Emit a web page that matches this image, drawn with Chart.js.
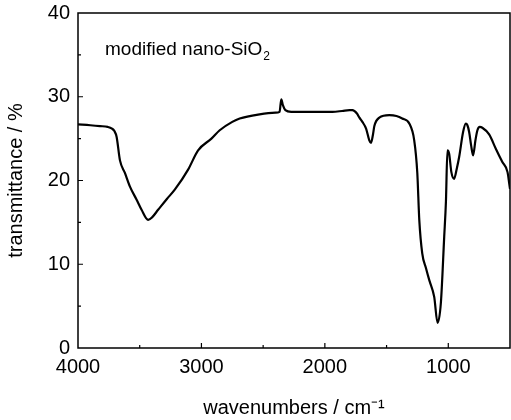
<!DOCTYPE html>
<html>
<head>
<meta charset="utf-8">
<script src="https://cdn.jsdelivr.net/npm/chart.js@4.4.1/dist/chart.umd.min.js"></script>
<style>
  html, body { margin: 0; padding: 0; background: #fff; }
  #wrap { width: 511px; height: 420px; position: relative; }
</style>
</head>
<body>
<div id="wrap"><canvas id="c" width="511" height="420"></canvas></div>
<script>
// Data
const wavenumbers = [4000, 3900, 3822, 3760, 3725, 3705, 3687, 3660, 3620, 3580, 3525, 3485, 3432, 3400, 3351, 3280, 3216, 3108, 3027, 2919, 2852, 2750, 2690, 2529, 2400, 2367, 2353, 2340, 2320, 2273, 2100, 1939, 1860, 1800, 1777, 1740, 1720, 1696, 1666, 1640, 1626, 1610, 1599, 1559, 1478, 1420, 1373, 1316, 1276, 1251, 1235, 1211, 1180, 1154, 1114, 1087, 1060, 1033, 1019, 1007, 993, 975, 953, 930, 912, 880, 858, 845, 831, 815, 799, 780, 764, 745, 724, 669, 615, 562, 520, 505, 500];
const transmittance = [26.7, 26.6, 26.5, 26.4, 26.2, 25.9, 25.2, 22.4, 20.9, 19.3, 17.7, 16.5, 15.3, 15.6, 16.5, 17.8, 18.9, 21.3, 23.6, 25.0, 26.0, 27.0, 27.4, 27.9, 28.1, 28.2, 29.7, 29.0, 28.4, 28.2, 28.2, 28.2, 28.3, 28.4, 28.4, 28.0, 27.5, 27.0, 26.2, 24.8, 24.5, 25.5, 26.5, 27.5, 27.8, 27.7, 27.4, 26.8, 24.8, 20.9, 15.3, 11.3, 9.5, 8.1, 6.1, 3.0, 5.4, 13.3, 17.5, 23.6, 23.2, 21.0, 20.2, 21.5, 22.8, 25.8, 26.8, 26.6, 25.8, 24.2, 23.0, 24.8, 26.0, 26.4, 26.3, 25.5, 23.8, 22.2, 21.0, 19.5, 19.0];
const xTicks = [4000, 3000, 2000, 1000];
const yTicks = [0, 10, 20, 30, 40];
const annotationText = 'modified nano-SiO';
const annotationSub = '2';

const FONT = '"Liberation Sans", Arial, Helvetica, sans-serif';

const points = wavenumbers.map((w, i) => ({ x: w, y: transmittance[i] }));

const frameAndTicks = {
  id: 'frameAndTicks',
  afterDraw(chart) {
    const { ctx, chartArea: a, scales: { x, y } } = chart;
    ctx.save();
    ctx.strokeStyle = '#000';
    ctx.lineWidth = 1.5;
    ctx.strokeRect(a.left, a.top, a.right - a.left, a.bottom - a.top);
    ctx.lineWidth = 1.2;
    ctx.beginPath();
    for (let v = 3500; v > 500; v -= 500) {
      const px = x.getPixelForValue(v);
      const len = v % 1000 === 0 ? 5 : 3;
      ctx.moveTo(px, a.bottom);
      ctx.lineTo(px, a.bottom - len);
    }
    for (let v = 5; v < 40; v += 5) {
      const py = y.getPixelForValue(v);
      const len = v % 10 === 0 ? 5 : 3;
      ctx.moveTo(a.left, py);
      ctx.lineTo(a.left + len, py);
    }
    ctx.stroke();
    // annotation label
    ctx.fillStyle = '#000';
    ctx.font = '19px ' + FONT;
    ctx.textBaseline = 'alphabetic';
    ctx.textAlign = 'left';
    const tx = 105, ty = 55;
    ctx.fillText(annotationText, tx, ty);
    const w = ctx.measureText(annotationText).width;
    ctx.font = '12px ' + FONT;
    ctx.fillText(annotationSub, tx + w + 1, ty + 5);
    ctx.restore();
  }
};

new Chart(document.getElementById('c'), {
  type: 'line',
  data: {
    datasets: [{
      data: points,
      borderColor: '#000',
      borderWidth: 2.2,
      pointRadius: 0,
      fill: false,
      cubicInterpolationMode: 'monotone'
    }]
  },
  options: {
    responsive: false,
    animation: false,
    layout: { padding: { top: 13, right: 1, left: 0, bottom: 0 } },
    plugins: { legend: { display: false }, tooltip: { enabled: false } },
    scales: {
      x: {
        type: 'linear',
        reverse: true,
        min: 500,
        max: 4000,
        afterFit(s) { s.height = 72; s.paddingLeft = 0; s.paddingRight = 0; },
        afterBuildTicks(s) { s.ticks = xTicks.map(v => ({ value: v })); },
        grid: { display: false, drawTicks: false },
        border: { display: false },
        ticks: { color: '#000', font: { family: FONT, size: 20 }, padding: 7, maxRotation: 0, autoSkip: false, callback: v => String(v) },
        title: { display: true, text: 'wavenumbers / cm⁻¹', color: '#000', font: { family: FONT, size: 20 }, padding: { top: 5, bottom: 0 } }
      },
      y: {
        min: 0,
        max: 40,
        afterFit(s) { s.width = 78; s.paddingTop = 0; s.paddingBottom = 0; },
        afterBuildTicks(s) { s.ticks = yTicks.map(v => ({ value: v })); },
        grid: { display: false, drawTicks: false },
        border: { display: false },
        ticks: { color: '#000', font: { family: FONT, size: 20 }, padding: 8, callback: v => String(v) },
        title: { display: true, text: 'transmittance / %', color: '#000', font: { family: FONT, size: 20 }, padding: { top: 4, bottom: 0 } }
      }
    }
  },
  plugins: [frameAndTicks]
});
</script>
</body>
</html>
